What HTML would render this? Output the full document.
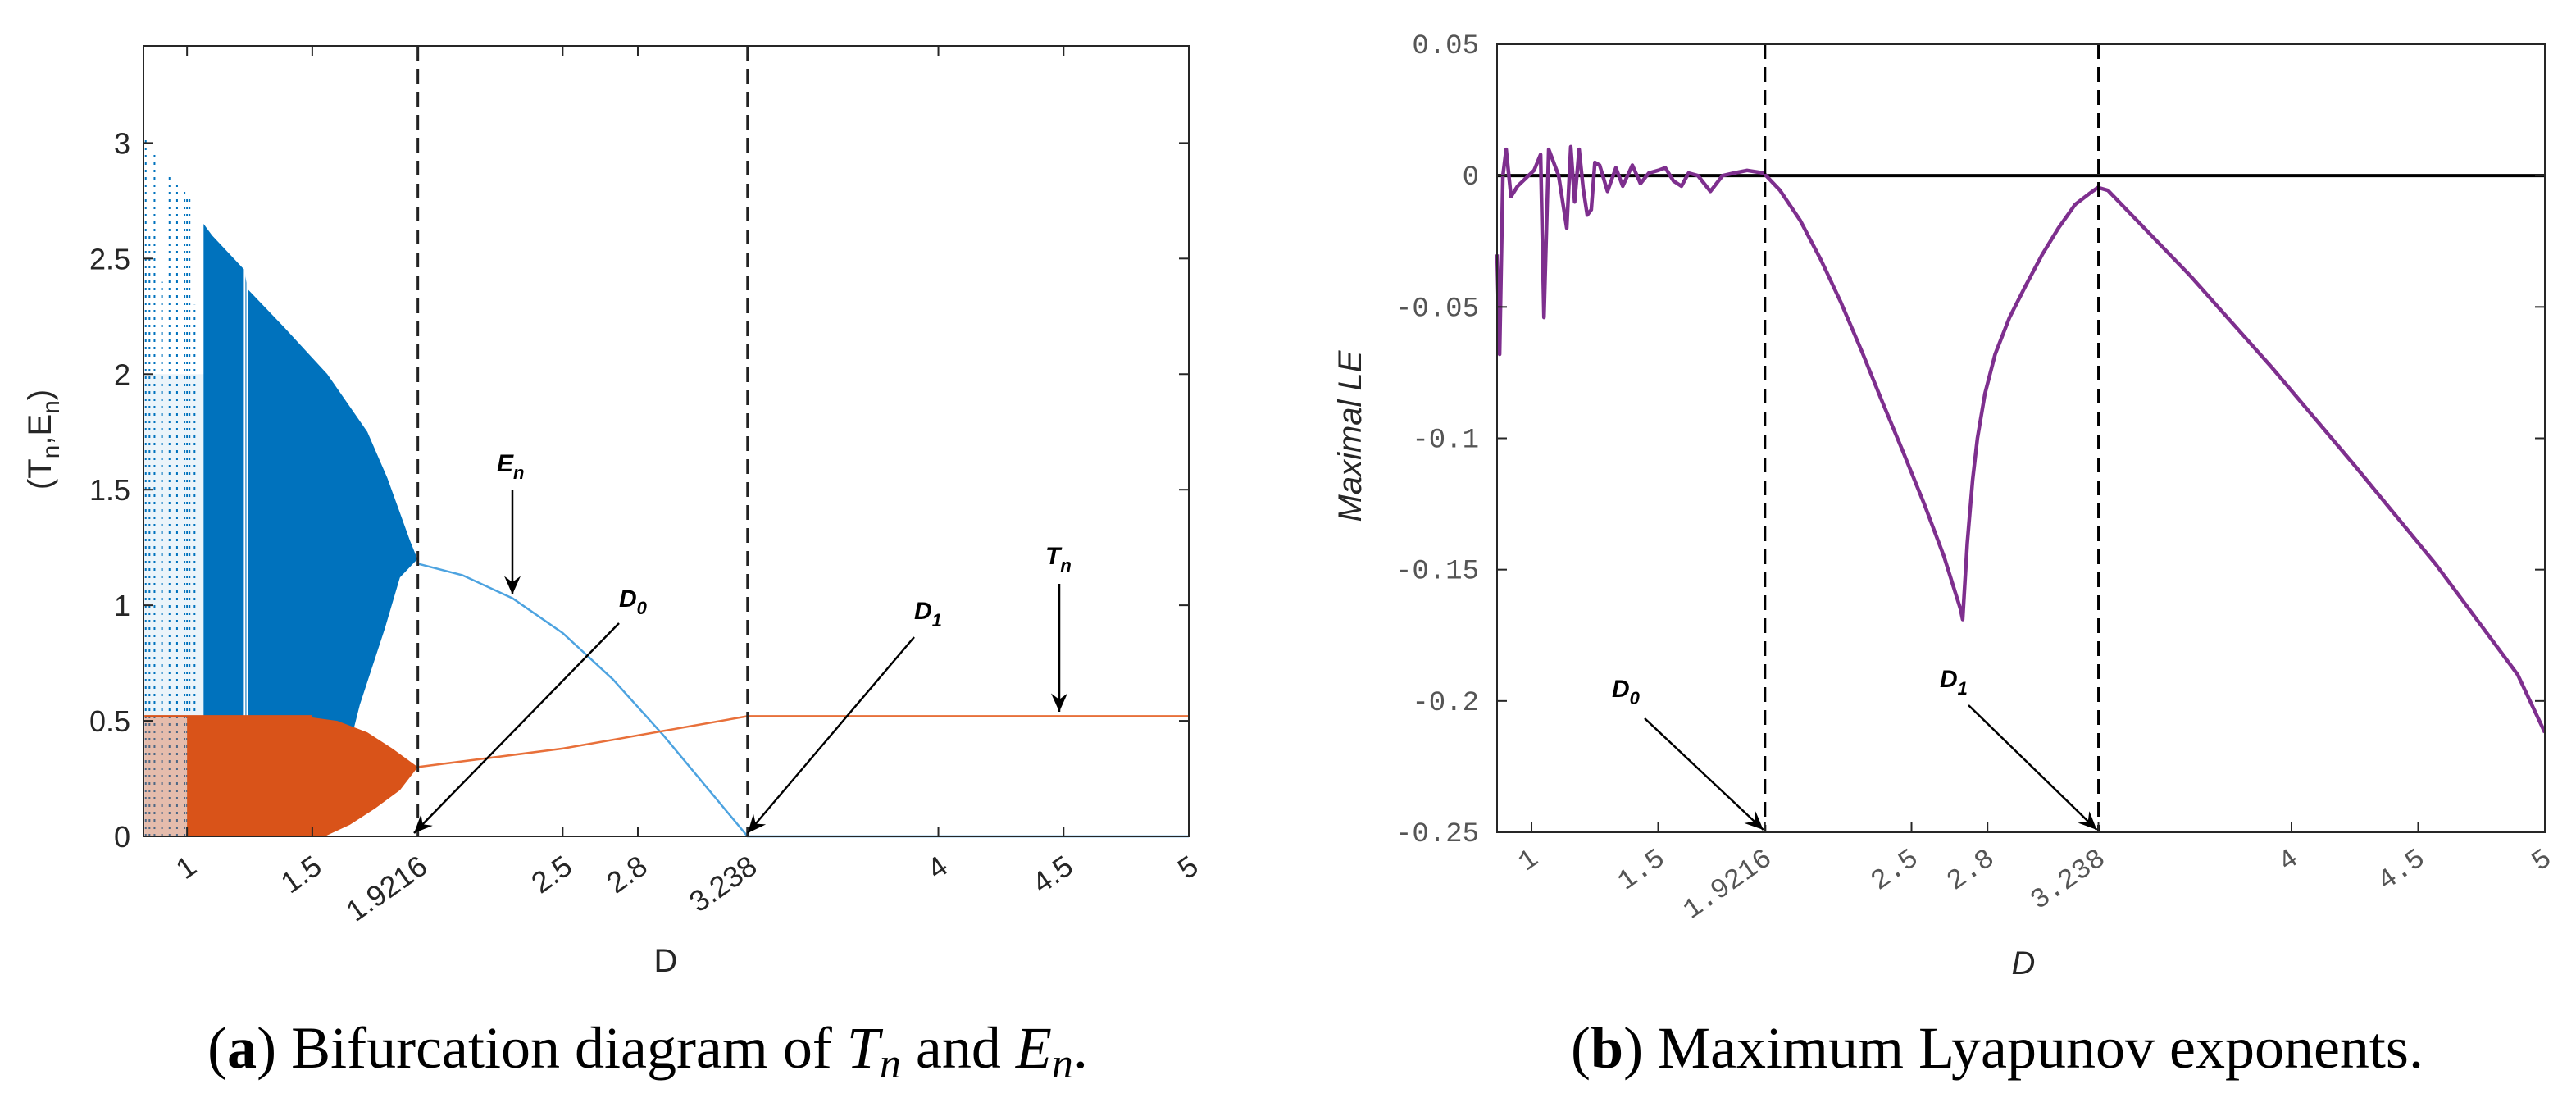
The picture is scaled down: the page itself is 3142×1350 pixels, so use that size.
<!DOCTYPE html>
<html><head><meta charset="utf-8"><style>
html,body{margin:0;padding:0;background:#fff}
svg{display:block}
</style></head><body>
<svg id="fig" width="3142" height="1350" viewBox="0 0 3142 1350" xmlns="http://www.w3.org/2000/svg">
<defs>
<marker id="ah" markerWidth="10" markerHeight="10" refX="9" refY="5" orient="auto" markerUnits="strokeWidth"><path d="M0,1 L9,5 L0,9 L3,5 Z" fill="#000"/></marker>
</defs>
<g id="pa"></g>
<g id="pb"></g>
<text x="790" y="1302" text-anchor="middle" font-family="Liberation Serif, serif" font-size="72">(<tspan font-weight="bold">a</tspan>) Bifurcation diagram of <tspan font-style="italic">T</tspan><tspan font-style="italic" font-size="52" dy="12">n</tspan><tspan dy="-12"> and </tspan><tspan font-style="italic">E</tspan><tspan font-style="italic" font-size="52" dy="12">n</tspan><tspan dy="-12">.</tspan></text>
<text x="2436" y="1302" text-anchor="middle" font-family="Liberation Serif, serif" font-size="72">(<tspan font-weight="bold">b</tspan>) Maximum Lyapunov exponents.</text>
</svg>
<script>
// ---------- Chart A data ----------
const aXTicks = [1, 1.5, 1.9216, 2.5, 2.8, 3.238, 4, 4.5, 5];
const aXTickLabels = ["1", "1.5", "1.9216", "2.5", "2.8", "3.238", "4", "4.5", "5"];
const aYTicks = [0, 0.5, 1, 1.5, 2, 2.5, 3];
const aYTickLabels = ["0", "0.5", "1", "1.5", "2", "2.5", "3"];
const spikeD = [0.835, 0.85, 0.87, 0.9, 0.93, 0.96, 0.99, 1.0, 1.01, 1.03];
const spikeTop = [3.03, 2.6, 2.95, 2.4, 2.87, 2.83, 2.8, 2.78, 2.77, 2.3];
const enTopD = [1.066, 1.1, 1.23, 1.24, 1.39, 1.56, 1.72, 1.8, 1.85, 1.89, 1.92];
const enTopV = [2.65, 2.6, 2.45, 2.37, 2.2, 2.0, 1.75, 1.55, 1.4, 1.28, 1.2];
const enBotD = [1.066, 1.46, 1.55, 1.62, 1.69, 1.79, 1.85, 1.92];
const enBotV = [0, 0, 0.1, 0.27, 0.57, 0.9, 1.12, 1.2];
const enFixD = [1.9216, 2.1, 2.3, 2.5, 2.7, 2.9, 3.1, 3.238, 5];
const enFixV = [1.18, 1.13, 1.03, 0.88, 0.68, 0.44, 0.18, 0, 0];
const tnTopD = [0.83, 1.46, 1.6, 1.72, 1.82, 1.9216];
const tnTopV = [0.52, 0.52, 0.5, 0.45, 0.38, 0.3];
const tnBotD = [1.23, 1.55, 1.65, 1.75, 1.85, 1.9216];
const tnBotV = [0, 0, 0.05, 0.12, 0.2, 0.3];
const tnFixD = [1.9216, 2.5, 3.238, 5];
const tnFixV = [0.3, 0.38, 0.52, 0.52];
// ---------- Chart B data ----------
const bXTicks = [1, 1.5, 1.9216, 2.5, 2.8, 3.238, 4, 4.5, 5];
const bXTickLabels = ["1", "1.5", "1.9216", "2.5", "2.8", "3.238", "4", "4.5", "5"];
const bYTicks = [-0.25, -0.2, -0.15, -0.1, -0.05, 0, 0.05];
const bYTickLabels = ["-0.25", "-0.2", "-0.15", "-0.1", "-0.05", "0", "0.05"];
const leD = [0.864,0.874,0.887,0.9,0.919,0.945,1.01,1.036,1.049,1.068,1.107,1.139,1.155,1.17,1.188,1.204,1.22,1.236,1.25,1.269,1.3,1.333,1.36,1.398,1.43,1.463,1.5,1.528,1.56,1.592,1.62,1.657,1.706,1.754,1.8,1.851,1.916,1.981,2.06,2.142,2.22,2.304,2.38,2.466,2.55,2.628,2.693,2.702,2.712,2.72,2.741,2.76,2.79,2.83,2.887,2.95,3.016,3.08,3.146,3.2,3.236,3.275,3.599,3.922,4.246,4.57,4.893,5];
const leV = [-0.03,-0.068,0,0.01,-0.008,-0.004,0.002,0.008,-0.054,0.01,0.0,-0.02,0.011,-0.01,0.01,-0.005,-0.015,-0.013,0.005,0.004,-0.006,0.003,-0.004,0.004,-0.003,0.001,0.002,0.003,-0.002,-0.004,0.001,0.0,-0.006,0.0,0.001,0.002,0.001,-0.0056,-0.017,-0.032,-0.048,-0.067,-0.085,-0.105,-0.125,-0.145,-0.165,-0.169,-0.153,-0.14,-0.116,-0.1,-0.083,-0.068,-0.054,-0.042,-0.03,-0.02,-0.011,-0.007,-0.0045,-0.0056,-0.038,-0.073,-0.11,-0.148,-0.19,-0.212];

const NS = "http://www.w3.org/2000/svg";
function mk(parent, tag, attrs, txt) {
  const e = document.createElementNS(NS, tag);
  for (const k in attrs) e.setAttribute(k, attrs[k]);
  if (txt !== undefined) e.textContent = txt;
  parent.appendChild(e);
  return e;
}
function pathOf(xs, ys, X, Y) {
  return xs.map((d, i) => (i ? "L" : "M") + X(d).toFixed(1) + "," + Y(ys[i]).toFixed(1)).join("");
}

// ===== Chart A =====
(function () {
  const g = document.getElementById("pa");
  const L = 175, R = 1450, T = 56, B = 1020;
  const x0 = 0.826, x1 = 5, y0 = 0, y1 = 3.42;
  const X = d => L + (d - x0) / (x1 - x0) * (R - L);
  const Y = v => B - (v - y0) / (y1 - y0) * (B - T);
  const blue = "#0072BD", orange = "#D95319";
  spikeD.forEach((d, i) => {
    const l = mk(g, "line", {x1: X(d), x2: X(d), y1: Y(0), y2: Y(spikeTop[i]), stroke: blue, "stroke-width": 2, "stroke-dasharray": "3 6"});
    
    
  });
  const cl = mk(g, "rect", {x: X(0.83), y: Y(2.0), width: X(1.066) - X(0.83), height: Y(0) - Y(2.0), fill: blue, opacity: 0.08});
  
  
  const topPts = enTopD.map((d, i) => X(d) + "," + Y(enTopV[i]));
  const botPts = enBotD.map((d, i) => X(d) + "," + Y(enBotV[i])).reverse();
  const reg = mk(g, "polygon", {points: topPts.concat(botPts).join(" "), fill: blue});
  
  
  [1.23, 1.24].forEach(d => {
    const w = mk(g, "line", {x1: X(d), x2: X(d), y1: Y(3), y2: Y(0), stroke: "#fff", "stroke-width": 2});
    
    
  });
  const enf = mk(g, "path", {d: pathOf(enFixD, enFixV, X, Y), fill: "none", stroke: "#4DA3E0", "stroke-width": 2.5});
  
  
  const orr = mk(g, "rect", {x: X(0.83), y: Y(0.52), width: X(1.23) - X(0.83), height: Y(0) - Y(0.52), fill: orange, opacity: 0.35});
  
  
  const ot = mk(g, "polygon", {points: tnTopD.map((d, i) => X(d) + "," + Y(tnTopV[i])).concat(tnBotD.map((d, i) => X(d) + "," + Y(tnBotV[i])).reverse()).concat([X(1.0) + "," + Y(0), X(1.0) + "," + Y(0.52)]).join(" "), fill: orange});
  
  
  const otl = mk(g, "line", {x1: X(0.83), x2: X(1.5), y1: Y(0.52), y2: Y(0.52), stroke: orange, "stroke-width": 2.5});
  
  
  const tnf = mk(g, "path", {d: pathOf(tnFixD, tnFixV, X, Y), fill: "none", stroke: "#E8703A", "stroke-width": 2.5});
  
  
  [1.9216, 3.238].forEach(d => {
    const dl = mk(g, "line", {x1: X(d), x2: X(d), y1: T, y2: B, stroke: "#222", "stroke-width": 3, "stroke-dasharray": "18 10"});
    
    
  });
  const bx = mk(g, "rect", {x: L, y: T, width: R - L, height: B - T, fill: "none", stroke: "#262626", "stroke-width": 2});
  
  
  aXTicks.forEach((d, i) => {
    mk(g, "line", {x1: X(d), x2: X(d), y1: B, y2: B - 12, stroke: "#262626", "stroke-width": 2});
    mk(g, "line", {x1: X(d), x2: X(d), y1: T, y2: T + 12, stroke: "#262626", "stroke-width": 2});
    const t = mk(g, "text", {x: X(d) + 14, y: B + 42, "text-anchor": "end", transform: `rotate(-35 ${X(d) + 14} ${B + 42})`, "font-family": "Liberation Sans, sans-serif", "font-size": 36, fill: "#262626"}, aXTickLabels[i]);
    
    
  });
  aYTicks.forEach((v, i) => {
    mk(g, "line", {x1: L, x2: L + 12, y1: Y(v), y2: Y(v), stroke: "#262626", "stroke-width": 2});
    mk(g, "line", {x1: R, x2: R - 12, y1: Y(v), y2: Y(v), stroke: "#262626", "stroke-width": 2});
    const t = mk(g, "text", {x: L - 16, y: Y(v) + 13, "text-anchor": "end", "font-family": "Liberation Sans, sans-serif", "font-size": 36, fill: "#262626"}, aYTickLabels[i]);
    
    
  });
  const xl = mk(g, "text", {x: 812, y: 1185, "text-anchor": "middle", "font-family": "Liberation Sans, sans-serif", "font-size": 40, fill: "#262626"}, "D");
  
  
  const yl = mk(g, "text", {x: 0, y: 0, transform: "translate(62 536) rotate(-90)", "text-anchor": "middle", "font-family": "Liberation Sans, sans-serif", "font-size": 40, fill: "#262626"});
  yl.innerHTML = '(T<tspan font-size="30" dy="10">n</tspan><tspan dy="-10">,E</tspan><tspan font-size="30" dy="10">n</tspan><tspan dy="-10">)</tspan>';
  
  
  function ann(name, label, tx, ty, ax1, ay1, ax2, ay2) {
    const t = mk(g, "text", {x: tx, y: ty, "font-family": "Liberation Sans, sans-serif", "font-size": 30, "font-weight": "bold", "font-style": "italic"});
    t.innerHTML = label[0] + '<tspan font-size="22" dy="9">' + label[1] + '</tspan>';
    
    
    const a = mk(g, "line", {x1: ax1, y1: ay1, x2: ax2, y2: ay2, stroke: "#000", "stroke-width": 2.5, "marker-end": "url(#ah)"});
    
    
  }
  ann("en", "En", 606, 575, 625, 597, 625, 725);
  ann("d0", "D0", 755, 740, 755, 760, 505, 1016);
  ann("d1", "D1", 1115, 755, 1115, 777, 912, 1016);
  ann("tn", "Tn", 1275, 688, 1292, 712, 1292, 868);
})();

// ===== Chart B =====
(function () {
  const g = document.getElementById("pb");
  const L = 1826, R = 3104, T = 54, B = 1015;
  const x0 = 0.864, x1 = 5, y0 = -0.25, y1 = 0.05;
  const X = d => L + (d - x0) / (x1 - x0) * (R - L);
  const Y = v => B - (v - y0) / (y1 - y0) * (B - T);
  const zl = mk(g, "line", {x1: L, x2: R, y1: Y(0), y2: Y(0), stroke: "#000", "stroke-width": 4});
  
  
  const le = mk(g, "path", {d: pathOf(leD, leV, X, Y), fill: "none", stroke: "#7E2F8E", "stroke-width": 4.5, "stroke-linejoin": "round"});
  
  
  [1.9216, 3.238].forEach(d => {
    const dl = mk(g, "line", {x1: X(d), x2: X(d), y1: T, y2: B, stroke: "#000", "stroke-width": 3, "stroke-dasharray": "18 10"});
    
    
  });
  const bx = mk(g, "rect", {x: L, y: T, width: R - L, height: B - T, fill: "none", stroke: "#262626", "stroke-width": 2});
  
  
  bXTicks.forEach((d, i) => {
    mk(g, "line", {x1: X(d), x2: X(d), y1: B, y2: B - 12, stroke: "#262626", "stroke-width": 2});
    const t = mk(g, "text", {x: X(d) + 10, y: B + 36, "text-anchor": "end", transform: `rotate(-35 ${X(d) + 10} ${B + 36})`, "font-family": "Liberation Mono, monospace", "font-size": 34, fill: "#555"}, bXTickLabels[i]);
    
    
  });
  bYTicks.forEach((v, i) => {
    mk(g, "line", {x1: L, x2: L + 12, y1: Y(v), y2: Y(v), stroke: "#262626", "stroke-width": 2});
    mk(g, "line", {x1: R, x2: R - 12, y1: Y(v), y2: Y(v), stroke: "#262626", "stroke-width": 2});
    const t = mk(g, "text", {x: L - 22, y: Y(v) + 11, "text-anchor": "end", "font-family": "Liberation Mono, monospace", "font-size": 34, fill: "#555"}, bYTickLabels[i]);
    
    
  });
  const xl = mk(g, "text", {x: 2468, y: 1188, "text-anchor": "middle", "font-family": "Liberation Sans, sans-serif", "font-size": 40, "font-style": "italic", fill: "#262626"}, "D");
  
  
  const yl = mk(g, "text", {x: 0, y: 0, transform: "translate(1660 532) rotate(-90)", "text-anchor": "middle", "font-family": "Liberation Sans, sans-serif", "font-size": 40, "font-style": "italic", fill: "#262626"}, "Maximal LE");
  
  
  function ann(name, label, tx, ty, ax1, ay1, ax2, ay2) {
    const t = mk(g, "text", {x: tx, y: ty, "font-family": "Liberation Sans, sans-serif", "font-size": 30, "font-weight": "bold", "font-style": "italic"});
    t.innerHTML = label[0] + '<tspan font-size="22" dy="9">' + label[1] + '</tspan>';
    
    
    const a = mk(g, "line", {x1: ax1, y1: ay1, x2: ax2, y2: ay2, stroke: "#000", "stroke-width": 2.5, "marker-end": "url(#ah)"});
    
    
  }
  ann("d0", "D0", 1966, 850, 2006, 876, X(1.9216) - 2, 1012);
  ann("d1", "D1", 2366, 838, 2401, 860, X(3.238) - 2, 1012);
})();
</script>
</body></html>
